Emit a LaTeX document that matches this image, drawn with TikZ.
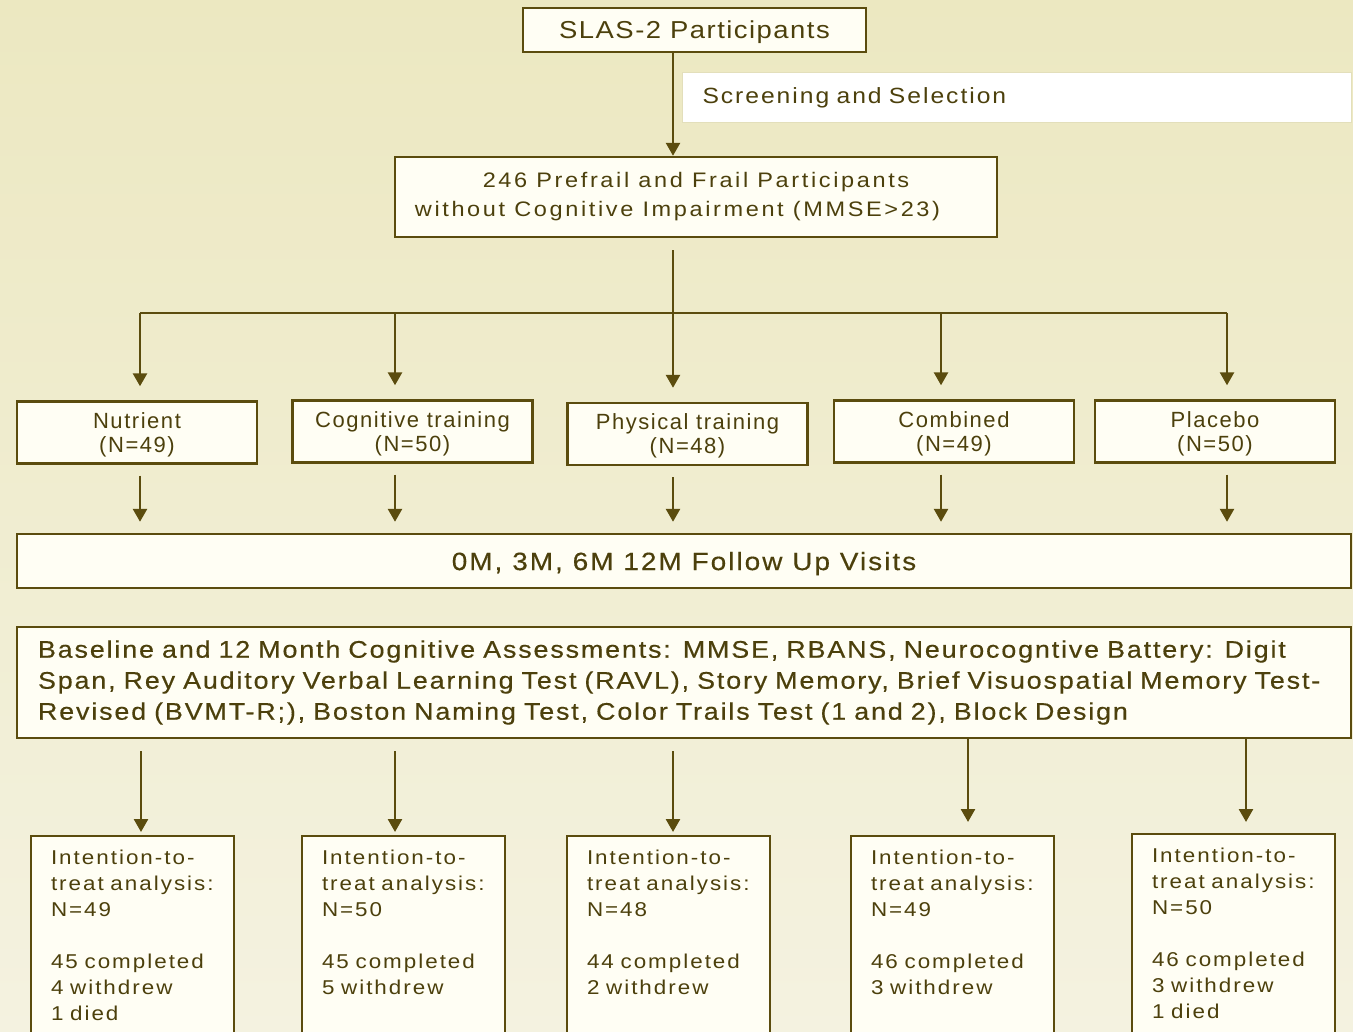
\documentclass[tikz,border=0pt]{standalone}
\usepackage{fontspec}
\setmainfont{Liberation Sans}
\newfontfamily\titleface[FakeStretch=1.12, LetterSpace=6]{Liberation Sans}
\newfontfamily\noteface[FakeStretch=1.12, LetterSpace=9]{Liberation Sans}
\newfontfamily\eligface[FakeStretch=1.12, LetterSpace=12.5]{Liberation Sans}
\newfontfamily\groupface[LetterSpace=7]{Liberation Sans}
\newfontfamily\visitface[FakeStretch=1.12, LetterSpace=8, FakeBold=0.4]{Liberation Sans}
\newfontfamily\assessface[FakeStretch=1.12, LetterSpace=7.7, FakeBold=0.4]{Liberation Sans}
\newfontfamily\ittface[FakeStretch=1.12, LetterSpace=10]{Liberation Sans}
\usetikzlibrary{arrows.meta}
\usetikzlibrary{positioning}
\definecolor{bgtop}{HTML}{ECE8C1}
\definecolor{bgbot}{HTML}{F4F2E0}
\definecolor{boxfill}{HTML}{FFFEF4}
\definecolor{ink}{HTML}{5B4C0E}
\definecolor{txt}{HTML}{4C400C}
\definecolor{noteline}{HTML}{E3DFBB}

\begin{document}
\begin{tikzpicture}[x=1pt, y=-1pt,
    box/.style={draw=ink, line width=2.4pt, fill=boxfill, text=txt, inner sep=0pt},
    arr/.style={draw=ink, line width=2.6pt, -{Triangle[width=14pt,length=13pt]}},
    link/.style={draw=ink, line width=2.4pt}]
    \clip (0,0) rectangle (1353,1032);
    \shade [top color=bgtop, bottom color=bgbot] (0,0) rectangle (1353,1032);
    % arrow columns
    \foreach \n/\x in {c1/140, c2/395, c3/673, c4/941, c5/1227} {
        \coordinate (\n) at (\x, 0);
    }
    \foreach \n/\x in {d1/141, d2/395, d3/673, d4/968, d5/1246} {
        \coordinate (\n) at (\x, 0);
    }
    \coordinate (bar) at (0, 313);
    % top part
    \node [box, minimum width=343pt, minimum height=44pt, text depth=0pt, font=\titleface\fontsize{24.5}{28}\selectfont] (slas) at (694.5, 30) {SLAS-2 Participants};
    \node [draw=noteline, line width=1pt, fill=white, text=txt, anchor=west, inner ysep=0pt, inner xsep=20pt,
        minimum height=50pt, text width=629pt, align=left, font=\noteface\fontsize{22}{25}\selectfont] (screen) at (682, 98) {Screening and Selection};
    \node [box, minimum width=602pt, minimum height=80pt, align=center, font=\eligface\fontsize{21}{29}\selectfont] (elig) at (696, 197)
        {246 Prefrail and Frail Participants\\without Cognitive Impairment (MMSE>23)\hspace*{37pt}};
    \draw [arr] (slas.south -| c3) -- (elig.north -| c3);
    \draw [link, shorten <=12pt] (elig.south -| c3) -- (bar -| c3);
    \draw [link] (bar -| c1) -- (bar -| c5);
    % groups
    \foreach \n/\x/\y/\t in {nut/137/432.5/{Nutrient\\(N=49)}, cog/412.5/431.5/{Cognitive training\\(N=50)},
        phy/687.5/434/{Physical training\\(N=48)}, comb/954/431.5/{Combined\\(N=49)}, plac/1215/431.5/{Placebo\\(N=50)}} {
        \node [box, minimum width=240pt, minimum height=62pt, align=center, text depth=0pt,
            font=\groupface\fontsize{22}{24}\selectfont] (\n) at (\x, \y) {\t};
    }
    \node [box, minimum width=1334pt, minimum height=54pt, text depth=0pt, font=\visitface\fontsize{25}{28}\selectfont] (visits) at (684, 561) {0M, 3M, 6M 12M Follow Up Visits};
    \foreach \c/\n in {c1/nut, c2/cog, c3/phy, c4/comb, c5/plac} {
        \draw [arr, shorten >=14pt] (bar -| \c) -- (\n.north -| \c);
        \draw [arr, shorten <=11pt, shorten >=11pt] (\n.south -| \c) -- (visits.north -| \c);
    }
    % assessments
    \node [box, minimum width=1334pt, minimum height=111pt, inner xsep=21pt, text width=1292pt, align=left,
        font=\assessface\fontsize{24}{31}\selectfont] (assess) at (684, 682.5)
        {Baseline and 12 Month Cognitive Assessments: MMSE, RBANS, Neurocogntive Battery: Digit\\
         Span, Rey Auditory Verbal Learning Test (RAVL), Story Memory, Brief Visuospatial Memory Test-\\
         Revised (BVMT-R;), Boston Naming Test, Color Trails Test (1 and 2), Block Design};
    % analysis boxes
    \foreach \n/\x/\y/\t in {itt1/132.5/835/{N=49\\[26pt]45 completed\\4 withdrew\\1 died},
        itt2/403.5/835/{N=50\\[26pt]45 completed\\5 withdrew},
        itt3/668.5/835/{N=48\\[26pt]44 completed\\2 withdrew},
        itt4/952.5/835/{N=49\\[26pt]46 completed\\3 withdrew},
        itt5/1233.5/833/{N=50\\[26pt]46 completed\\3 withdrew\\1 died}} {
        \node [box, anchor=north, inner xsep=20pt, inner ysep=13pt, text width=163pt, text height=15pt, text depth=220pt,
            align=left, font=\ittface\fontsize{20}{26}\selectfont] (\n) at (\x, \y) {Intention-to-\\treat analysis:\\\t};
    }
    \foreach \c/\n/\s/\e in {d1/itt1/12pt/3pt, d2/itt2/12pt/3pt, d3/itt3/12pt/3pt, d4/itt4/0pt/13pt, d5/itt5/0pt/11pt} {
        \draw [arr, shorten <=\s, shorten >=\e] (assess.south -| \c) -- (\n.north -| \c);
    }
\end{tikzpicture}
\end{document}
